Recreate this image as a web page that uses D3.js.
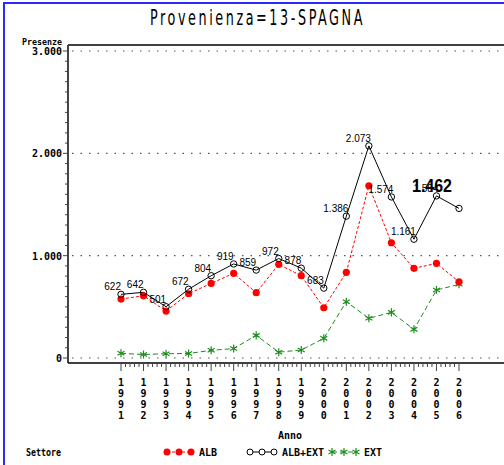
<!DOCTYPE html>
<html>
<head>
<meta charset="utf-8">
<script src="https://cdn.jsdelivr.net/npm/d3@7"></script>
<style>
  body { margin: 0; background: #fff; }
  svg { display: block; }
  .lab { font-family: "Liberation Sans", Arial, sans-serif; font-size: 10px; fill: #000; }
  .sas { font-family: "DejaVu Sans Mono", monospace; font-weight: bold; font-size: 10px; fill: #000; }
</style>
</head>
<body>
<div class="chart"></div>
<script>
// data
const years = [1991, 1992, 1993, 1994, 1995, 1996, 1997, 1998, 1999, 2000, 2001, 2002, 2003, 2004, 2005, 2006];
const alb = [576, 608, 459, 628, 729, 827, 638, 915, 804, 491, 837, 1683, 1126, 876, 925, 745];
const ext = [46, 34, 42, 44, 75, 92, 221, 57, 78, 192, 550, 388, 446, 280, 664, 720];
const albExt = [622, 642, 501, 672, 804, 919, 859, 972, 878, 683, 1386, 2073, 1574, 1161, 1584, 1462];
const yTicks = [0, 1000, 2000, 3000];
const yTickLabels = ["0", "1.000", "2.000", "3.000"];

const w = 504, h = 465;
const svg = d3.select(".chart").append("svg").attr("width", w).attr("height", h);

// blue frame of the graph window
svg.append("line").attr("x1", 4).attr("x2", 4).attr("y1", 2).attr("y2", h).attr("stroke", "#2a2aff").attr("stroke-width", 2);
svg.append("line").attr("x1", 3).attr("x2", w).attr("y1", 3).attr("y2", 3).attr("stroke", "#2a2aff").attr("stroke-width", 2);

// thin, narrow, widely spaced title like the SAS simplex font
svg.append("text")
  .attr("x", 150).attr("y", 25)
  .attr("textLength", 215).attr("lengthAdjust", "spacingAndGlyphs")
  .style("font-family", "DejaVu Sans Condensed, DejaVu Sans, sans-serif")
  .style("font-size", "22px").style("font-weight", "200")
  .style("letter-spacing", "4px")
  .text("Provenienza=13-SPAGNA");

const x = d3.scaleLinear().domain([1991, 2006]).range([121, 459]);
const y = d3.scaleLinear().domain([0, 3000]).range([358, 51]);

const plotLeft = 68, plotTop = 45, plotBottom = 363;

// dotted grid lines
svg.selectAll(".grid").data(yTicks).enter().append("line")
  .attr("x1", plotLeft + 4).attr("x2", w)
  .attr("y1", d => y(d)).attr("y2", d => y(d))
  .attr("stroke", "#555").attr("stroke-width", 1.2)
  .attr("stroke-dasharray", "1.5,7");

// frame top line
svg.append("line").attr("x1", plotLeft).attr("x2", w).attr("y1", plotTop).attr("y2", plotTop).attr("stroke", "#000").attr("stroke-width", 1.5);

// y axis
svg.append("line").attr("x1", plotLeft).attr("x2", plotLeft).attr("y1", plotTop).attr("y2", plotBottom).attr("stroke", "#444").attr("stroke-width", 2);
const yMinor = d3.range(0, 3001, 100);
svg.selectAll(".ytick").data(yMinor).enter().append("line")
  .attr("x1", d => d % 1000 === 0 ? plotLeft - 5 : plotLeft - 3).attr("x2", plotLeft)
  .attr("y1", d => y(d)).attr("y2", d => y(d))
  .attr("stroke", "#444").attr("stroke-width", 1);
svg.selectAll(".ylab").data(yTicks).enter().append("text")
  .attr("class", "sas")
  .attr("x", plotLeft - 6).attr("y", d => y(d) + 4)
  .attr("text-anchor", "end")
  .text((d, i) => yTickLabels[i]);
svg.append("text").attr("class", "sas")
  .attr("x", 62).attr("y", 45).attr("text-anchor", "end")
  .attr("textLength", 40).attr("lengthAdjust", "spacingAndGlyphs")
  .style("font-size", "9px")
  .text("Presenze");

// x axis
svg.append("line").attr("x1", plotLeft).attr("x2", w).attr("y1", plotBottom).attr("y2", plotBottom).attr("stroke", "#000").attr("stroke-width", 1.5);
const xMinor = d3.range(0, 76).map(i => 1991 + i / 5);
svg.selectAll(".xtick").data(xMinor).enter().append("line")
  .attr("x1", d => x(d)).attr("x2", d => x(d))
  .attr("y1", plotBottom).attr("y2", (d, i) => i % 5 === 0 ? plotBottom + 8 : plotBottom + 4)
  .attr("stroke", "#444").attr("stroke-width", 1);
years.forEach(yr => {
  const g = svg.append("text").attr("class", "sas").attr("text-anchor", "middle");
  String(yr).split("").forEach((ch, k) => {
    g.append("tspan").attr("x", x(yr)).attr("y", 386 + k * 11).text(ch);
  });
});
svg.append("text").attr("class", "sas").attr("x", 290).attr("y", 439).attr("text-anchor", "middle").text("Anno");

// series
const line = vals => d3.line().x((d, i) => x(years[i])).y(d => y(d))(vals);

svg.append("path").attr("d", line(ext)).attr("fill", "none").attr("stroke", "#1e8c1e").attr("stroke-width", 1).attr("stroke-dasharray", "5,3");
svg.append("path").attr("d", line(alb)).attr("fill", "none").attr("stroke", "#ff0000").attr("stroke-width", 1).attr("stroke-dasharray", "3,2");
svg.append("path").attr("d", line(albExt)).attr("fill", "none").attr("stroke", "#000").attr("stroke-width", 1);

const star = d3.symbol().type(d3.symbolAsterisk).size(45);
svg.selectAll(".ext").data(ext).enter().append("path")
  .attr("d", star).attr("transform", (d, i) => `translate(${x(years[i])},${y(d)})`)
  .attr("fill", "none").attr("stroke", "#1e8c1e").attr("stroke-width", 1.2);
svg.selectAll(".alb").data(alb).enter().append("circle")
  .attr("cx", (d, i) => x(years[i])).attr("cy", d => y(d)).attr("r", 3.6)
  .attr("fill", "#ff0000");
svg.selectAll(".tot").data(albExt).enter().append("circle")
  .attr("cx", (d, i) => x(years[i])).attr("cy", d => y(d)).attr("r", 3.2)
  .attr("fill", "none").attr("stroke", "#000").attr("stroke-width", 1);

// point labels (last year left out, drawn big below as in the reference)
const fmt = v => v >= 1000 ? d3.format(",")(v).replace(",", ".") : String(v);
svg.selectAll(".plab").data(albExt.slice(0, -1)).enter().append("text")
  .attr("class", "lab")
  .attr("x", (d, i) => x(years[i]) + (d >= 1000 ? 2 : 0))
  .attr("y", d => y(d) - 4)
  .attr("text-anchor", "end")
  .text(d => fmt(d));
svg.append("text")
  .attr("x", 432).attr("y", 192).attr("text-anchor", "middle")
  .attr("textLength", 40).attr("lengthAdjust", "spacingAndGlyphs")
  .style("font-family", "Liberation Sans, Arial, sans-serif")
  .style("font-size", "18px").style("font-weight", "bold")
  .text(fmt(albExt[albExt.length - 1]));

// legend
const ly = 452;
svg.append("text").attr("class", "sas").attr("x", 26).attr("y", ly + 4).attr("textLength", 35).attr("lengthAdjust", "spacingAndGlyphs").text("Settore");
const legend = [
  { name: "ALB", x0: 167, color: "#ff0000", dash: "3,2", kind: "dot", tx: 199 },
  { name: "ALB+EXT", x0: 250, color: "#000", dash: null, kind: "circle", tx: 282 },
  { name: "EXT", x0: 332, color: "#1e8c1e", dash: "5,3", kind: "star", tx: 364 }
];
legend.forEach(l => {
  svg.append("line").attr("x1", l.x0).attr("x2", l.x0 + 24).attr("y1", ly).attr("y2", ly)
    .attr("stroke", l.color).attr("stroke-width", 1).attr("stroke-dasharray", l.dash);
  [0, 12, 24].forEach(dx => {
    if (l.kind === "dot") {
      svg.append("circle").attr("cx", l.x0 + dx).attr("cy", ly).attr("r", 3.5).attr("fill", l.color);
    } else if (l.kind === "circle") {
      svg.append("circle").attr("cx", l.x0 + dx).attr("cy", ly).attr("r", 3).attr("fill", "#fff").attr("stroke", l.color);
    } else {
      svg.append("path").attr("d", star).attr("transform", `translate(${l.x0 + dx},${ly})`).attr("fill", "none").attr("stroke", l.color).attr("stroke-width", 1.2);
    }
  });
  svg.append("text").attr("class", "sas").attr("x", l.tx).attr("y", ly + 4).text(l.name);
});
</script>
</body>
</html>
